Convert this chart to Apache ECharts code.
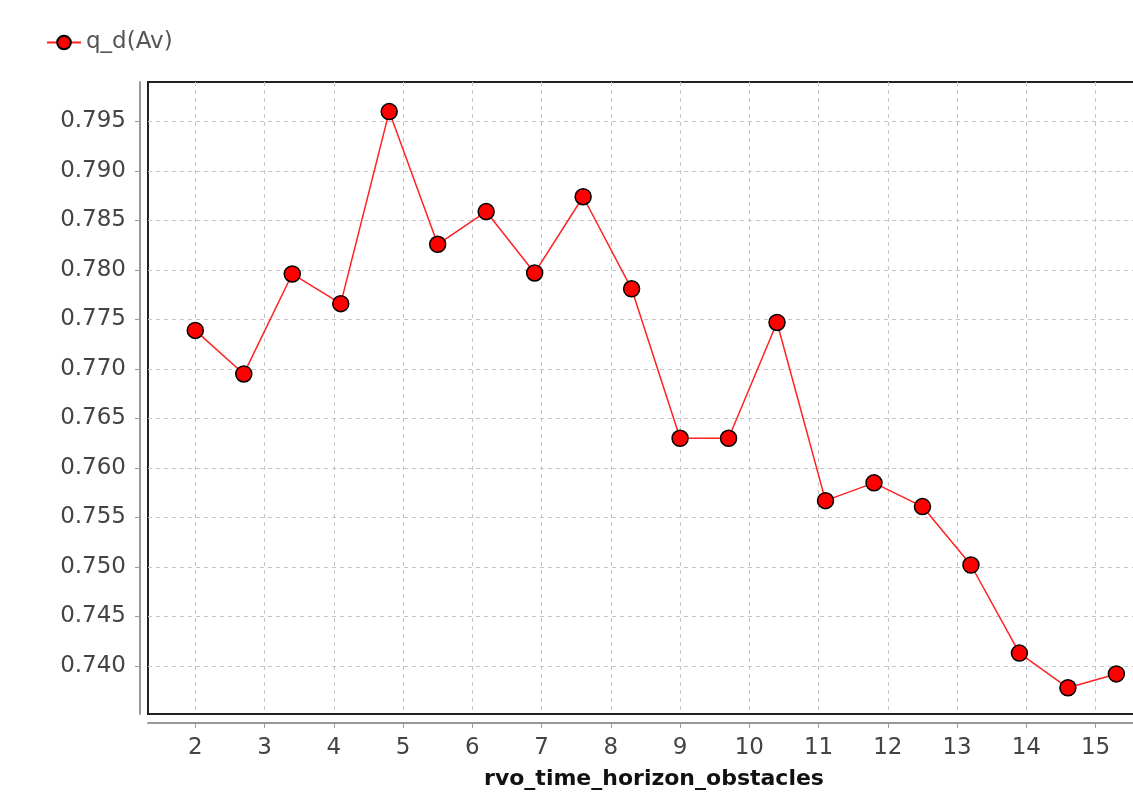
<!DOCTYPE html>
<html>
<head>
<meta charset="utf-8">
<title>q_d(Av)</title>
<script src="https://cdn.jsdelivr.net/npm/echarts@6/dist/echarts.min.js"></script>
<style>
  html, body { margin: 0; padding: 0; background: #fff; overflow: hidden; }
  /* the plot runs past the right edge of the window, as in the original crop */
  #chart { width: 1160px; height: 799px; }
</style>
</head>
<body>
<div id="chart"></div>
<script>
// values
const seriesName = "q_d(Av)";
const xTitle = "rvo_time_horizon_obstacles";
const horizon = [2.0, 2.7, 3.4, 4.1, 4.8, 5.5, 6.2, 6.9, 7.6, 8.3,
                 9.0, 9.7, 10.4, 11.1, 11.8, 12.5, 13.2, 13.9, 14.6, 15.3];
const qd = [0.7739, 0.7695, 0.7796, 0.7766, 0.7960, 0.7826, 0.7859, 0.7797, 0.7874, 0.7781,
            0.7630, 0.7630, 0.7747, 0.7567, 0.7585, 0.7561, 0.7502, 0.7413, 0.7378, 0.7392];

const data = horizon.map((x, i) => [x, qd[i]]);

const gridDash = { color: "#c4c4c4", type: [4, 4], width: 1 };
const tickFont = { fontFamily: "DejaVu Sans", fontSize: 23, color: "#444" };

const chart = echarts.init(document.getElementById("chart"));
chart.setOption({
  animation: false,
  backgroundColor: "#fff",
  legend: {
    left: 46,
    top: 31,
    padding: 0,
    itemWidth: 34,
    itemHeight: 17,
    itemGap: 10,
    textStyle: { fontFamily: "DejaVu Sans", fontSize: 23, color: "#555" },
    data: [seriesName]
  },
  grid: {
    left: 148,
    top: 82,
    bottom: 85,
    right: 0,
    show: true,
    borderColor: "#222",
    borderWidth: 2,
    containLabel: false,
    outerBoundsMode: "none"
  },
  xAxis: {
    type: "value",
    min: 1.317,
    max: 15.93,
    minInterval: 1,
    maxInterval: 1,
    offset: 9,
    name: xTitle,
    nameLocation: "middle",
    nameGap: 45,
    nameTextStyle: { fontFamily: "DejaVu Sans", fontSize: 22, fontWeight: "bold", color: "#111" },
    axisLine: { show: true, lineStyle: { color: "#999", width: 2 } },
    axisTick: { show: true, length: 5, lineStyle: { color: "#999" } },
    axisLabel: Object.assign({ showMinLabel: false, showMaxLabel: false, margin: 14 }, tickFont),
    splitLine: { show: true, showMinLine: false, showMaxLine: false, lineStyle: gridDash }
  },
  yAxis: {
    type: "value",
    min: 0.73515,
    max: 0.79899,
    minInterval: 0.005,
    maxInterval: 0.005,
    offset: 8,
    axisLine: { show: true, lineStyle: { color: "#999", width: 2 } },
    axisTick: { show: true, length: 5, lineStyle: { color: "#999" } },
    axisLabel: Object.assign({
      showMinLabel: false, showMaxLabel: false, margin: 14,
      formatter: v => v.toFixed(3)
    }, tickFont),
    splitLine: { show: true, showMinLine: false, showMaxLine: false, lineStyle: gridDash }
  },
  series: [
    {
      name: seriesName,
      type: "line",
      data: data,
      symbol: "circle",
      symbolSize: 16,
      itemStyle: { color: "#f00", borderColor: "#000", borderWidth: 1.5 },
      lineStyle: { color: "#ff2020", width: 1.5 },
      emphasis: { disabled: true }
    }
  ]
});
</script>
</body>
</html>
